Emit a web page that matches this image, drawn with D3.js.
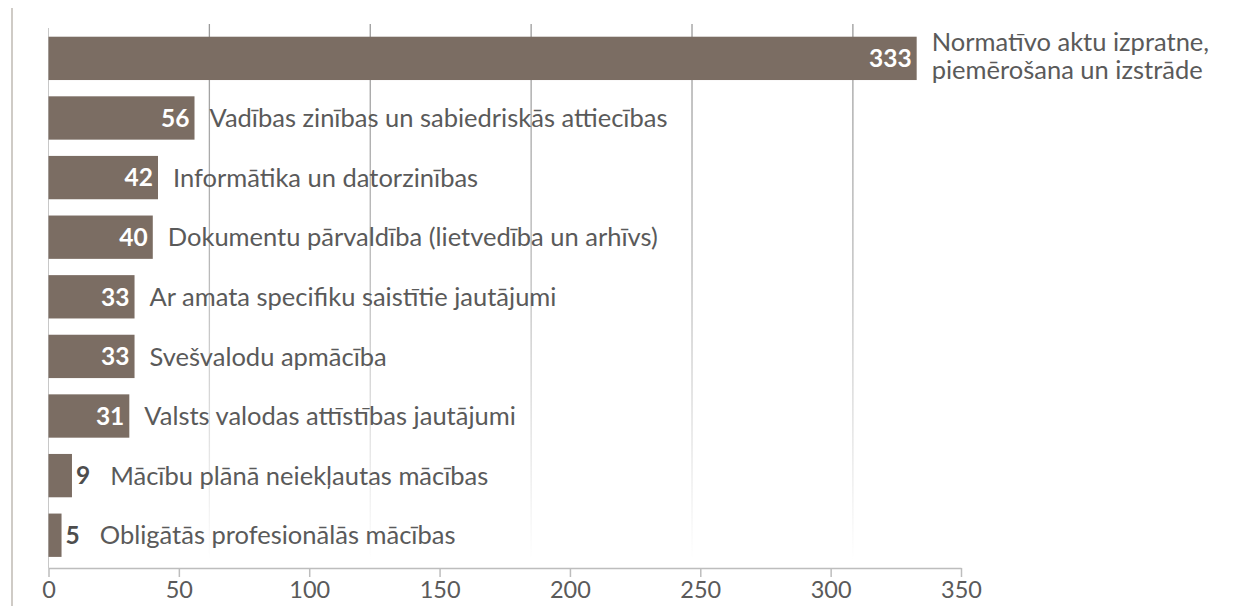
<!DOCTYPE html>
<html>
<head>
<meta charset="utf-8">
<script src="https://cdn.jsdelivr.net/npm/d3@7"></script>
<style>
  html, body { margin: 0; padding: 0; background: #fff; }
  svg { display: block; font-family: Lato, "Noto Sans", sans-serif; }
</style>
</head>
<body>
<svg id="chart" width="1236" height="606"></svg>
<script>
const categories = [
  ["Normatīvo aktu izpratne,", "piemērošana un izstrāde"],
  ["Vadības zinības un sabiedriskās attiecības"],
  ["Informātika un datorzinības"],
  ["Dokumentu pārvaldība (lietvedība un arhīvs)"],
  ["Ar amata specifiku saistītie jautājumi"],
  ["Svešvalodu apmācība"],
  ["Valsts valodas attīstības jautājumi"],
  ["Mācību plānā neiekļautas mācības"],
  ["Obligātās profesionālās mācības"]
];
const values = [333, 56, 42, 40, 33, 33, 31, 9, 5];
const xTicks = [0, 50, 100, 150, 200, 250, 300, 350];
const gridTicks = [50, 100, 150, 200, 250];

const svg = d3.select("#chart");
const W = 1236, H = 606;
const left = 48.5, right = 961, axisY = 568;

const x = d3.scaleLinear().domain([0, 350]).range([left, right]);
// background gridlines of the original follow a different (hidden) scale
const xGrid = d3.scaleLinear().domain([0, 283.6]).range([left, right]);
const y = d3.scaleBand().domain(d3.range(values.length)).range([28.6, 565])
  .paddingInner(0.273).paddingOuter(0.136);

const barColor = "#7b6d63";
const textColor = "#5a5a5a";
const labelSize = 25.5;

// gradient for fading gridlines
const defs = svg.append("defs");
const grad = defs.append("linearGradient").attr("id", "gridFade")
  .attr("gradientUnits", "userSpaceOnUse")
  .attr("x1", 0).attr("x2", 0).attr("y1", 24).attr("y2", 560);
grad.append("stop").attr("offset", "0%").attr("stop-color", "#9a9a9a");
grad.append("stop").attr("offset", "45%").attr("stop-color", "#b8b8b8");
grad.append("stop").attr("offset", "100%").attr("stop-color", "#ffffff");

// left border line
svg.append("line").attr("x1", 12).attr("x2", 12).attr("y1", 8).attr("y2", H)
  .attr("stroke", "#cfcbc6").attr("stroke-width", 2);

// gridlines
svg.append("g").selectAll("line").data(gridTicks).join("line")
  .attr("x1", d => xGrid(d)).attr("x2", d => xGrid(d))
  .attr("y1", 24).attr("y2", axisY)
  .attr("stroke", "url(#gridFade)").attr("stroke-width", 1.3);

// left zero line
svg.append("line").attr("x1", x(0)).attr("x2", x(0)).attr("y1", 28).attr("y2", axisY)
  .attr("stroke", "#c8c8c8").attr("stroke-width", 1);

// bars
svg.append("g").selectAll("rect").data(values).join("rect")
  .attr("x", x(0)).attr("y", (d, i) => y(i))
  .attr("width", d => x(d) - x(0)).attr("height", y.bandwidth())
  .attr("fill", barColor);

// x axis
const axis = d3.axisBottom(x).tickValues(xTicks).tickSize(9).tickPadding(4).tickSizeOuter(0);
const ag = svg.append("g").attr("transform", `translate(0,${axisY})`).call(axis);
ag.select(".domain").attr("stroke", "#bdbdbd").attr("stroke-width", 1.5);
ag.selectAll(".tick line").attr("stroke", "#bdbdbd").attr("stroke-width", 1.5);
ag.selectAll(".tick text").attr("fill", textColor).attr("font-size", 23.5)
  .attr("font-family", "Lato, 'Noto Sans', sans-serif");

// labels
const lg = svg.append("g");
values.forEach((v, i) => {
  const cy = y(i) + y.bandwidth() / 2;
  const end = x(v);
  const inside = v >= 20;
  const vt = lg.append("text")
    .attr("y", cy).attr("dy", "0.36em")
    .attr("font-size", 24.5).attr("font-weight", "bold")
    .text(v);
  let labelX;
  if (inside) {
    vt.attr("x", end - 5).attr("text-anchor", "end").attr("fill", "#ffffff");
    labelX = end + 15;
  } else {
    vt.attr("x", end + 4).attr("text-anchor", "start").attr("fill", "#4d4d4d");
    labelX = end + 4 + vt.node().getComputedTextLength() + 20;
  }
  const lines = categories[i];
  const lh = 28;
  lines.forEach((ln, k) => {
    const off = (k - (lines.length - 1) / 2) * lh;
    lg.append("text").attr("x", labelX)
      .attr("y", cy + off - (lines.length > 1 ? 3 : 0))
      .attr("dy", "0.36em")
      .attr("fill", textColor).attr("font-size", labelSize)
      .text(ln);
  });
});
</script>
</body>
</html>
